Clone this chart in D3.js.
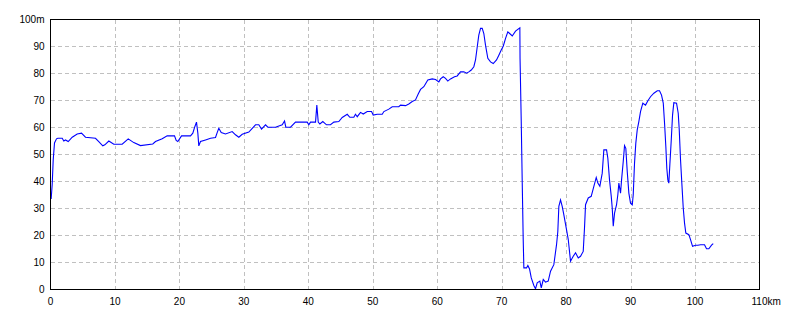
<!DOCTYPE html>
<html>
<head>
<meta charset="utf-8">
<script src="https://cdn.jsdelivr.net/npm/d3@7"></script>
<style>
  html, body { margin: 0; padding: 0; background: #fff; }
  svg { display: block; }
  text { font-family: "Liberation Sans", Arial, sans-serif; font-size: 10px; fill: #000; }
</style>
</head>
<body>
<svg id="chart" width="800" height="320"></svg>
<script>
// Distance (km) along the route
const distanceKm = [0.1,0.26,0.42,0.62,0.93,1.13,1.82,2.06,2.33,2.75,3.37,4.14,4.81,5.43,6.98,7.49,8.11,8.43,9.05,9.82,11.12,12.06,12.92,13.96,15.87,16.29,17.33,18.1,19.24,19.5,19.75,20.33,21.72,22.08,22.39,22.65,22.86,23.01,23.27,
  24.05,24.83,25.6,25.86,26.11,26.49,27.15,28.19,28.7,29.22,29.74,30.77,31.81,32.32,32.74,33.36,33.72,34.91,35.95,36.31,36.51,37.24,38.01,39.83,40.08,40.34,41.12,41.32,41.54,41.79,42.25,42.82,43.44,43.96,44.73,45.26,46.04,46.44,47.06,47.32,47.59,48.1,
  48.52,49.14,49.81,50.07,50.69,51.47,51.72,52.49,53.02,54.04,54.31,55.08,55.59,56.12,56.63,57.05,57.41,57.92,58.54,59.22,59.74,60.25,60.51,60.93,61.29,61.64,62.06,62.68,63.1,63.61,64.13,64.55,64.9,65.28,65.68,65.94,66.21,66.45,66.72,66.98,67.23,67.49,67.85,68.27,68.69,69.2,69.56,69.93,70.24,70.6,70.95,
  71.11,71.64,72.15,72.82,72.85,73.03,73.19,73.34,73.44,73.86,74.06,74.32,74.59,74.99,75.25,75.51,75.92,76.14,76.45,76.8,77.22,77.58,78.09,78.51,78.71,78.87,79.13,79.39,79.64,80.01,80.33,80.68,81.1,81.46,81.88,82.23,82.65,82.85,83.01,83.43,83.89,84.3,84.67,84.92,85.23,
  85.6,85.85,86.27,86.47,86.73,87.0,87.15,87.31,87.51,87.82,88.02,88.18,88.44,88.6,88.86,89.06,89.26,89.48,89.73,89.99,90.26,90.41,90.61,90.81,91.03,91.28,91.54,91.9,92.32,92.68,93.09,93.61,94.14,94.49,94.8,95.07,95.27,95.47,95.62,95.78,95.93,96.09,96.31,96.51,96.71,97.13,97.39,97.55,97.75,97.95,98.17,98.37,98.57,99.04,99.3,99.61,100.08,100.43,100.85,101.47,101.78,102.14,102.56,102.82];
// Elevation (m)
const elevationM = [33.5,38.8,48,54.3,55.8,56,56,55,55.4,54.8,56.4,57.6,57.9,56.4,56,54.8,53.2,53.6,55,53.8,53.8,55.8,54.4,53.3,53.9,54.8,55.8,56.9,56.9,55.2,54.8,56.9,56.9,57.9,60.3,62,57.9,53.2,54.8,
  55.4,56,56.3,58.1,59.7,58.1,57.6,58.5,57.3,56.4,57.5,58.3,61,61,59.4,61,60.1,60.1,61,62.4,60.1,60.1,62,62,61,62,62,68.3,62,61.3,62.2,61,61,62,62.2,63.7,64.9,63.8,63.8,64.9,64,65.6,
  65,65.9,65.9,64.6,64.9,64.9,65.9,66.8,67.7,67.7,68.3,68.1,68.7,69.6,70.2,72.4,74.1,75.1,77.6,78,77.8,76.9,78,78.8,78.2,77.2,78,78.8,79.1,80.6,80.6,80.1,80.6,81.3,82.5,85,89.9,94.2,96.7,96.7,94.8,90.5,85.6,84.3,83.7,85,86.8,88.7,90.1,93,95.4,
  95.1,93.9,95.7,96.9,85.6,62.8,39.4,18.5,8,8,8.9,7.6,4.3,1.5,0.3,2.5,3.1,0.6,3.7,2.7,3.1,6.8,9.2,16.6,21.5,30.8,33.2,30.8,27.7,22.8,18.5,10.5,12.3,13.6,11.7,12.3,14.1,22.8,31.4,33.9,34.5,38.2,41.5,39.4,38.2,
  43.1,51.7,51.7,48.6,40.6,34.5,30.2,23.4,28.3,31.4,35.1,39.4,35.7,40.6,47.4,53.3,52.3,43.7,35.7,32,31.4,35.1,46.8,54.2,59.1,62.2,65.9,69,68.3,69.9,71.4,72.7,73.6,73.6,72,69,61.6,52.9,44.9,40.6,39.4,46.2,55.4,64.6,69.2,69,65.3,59.1,48,39.4,30.2,24.6,20.9,20.3,18.5,16,16.4,16.4,16.6,16.6,15.1,15.1,16.4,17];

const xTicks = [0,10,20,30,40,50,60,70,80,90,100,110];
const yTicks = [0,10,20,30,40,50,60,70,80,90,100];
const xUnit = "km";
const yUnit = "m";

const svg = d3.select("#chart");
const x = d3.scaleLinear().domain([0, 110]).range([50.5, 759.5]);
const y = d3.scaleLinear().domain([0, 100]).range([289.5, 19.5]);

// grid
const grid = svg.append("g").attr("shape-rendering", "crispEdges")
  .attr("stroke", "#c0c0c0").attr("stroke-dasharray", "4,3").attr("stroke-width", 1);
grid.selectAll("line.v").data(xTicks.slice(1, -1)).join("line")
  .attr("x1", d => Math.round(x(d)) + 0.5).attr("x2", d => Math.round(x(d)) + 0.5)
  .attr("y1", y(100)).attr("y2", y(0));
grid.selectAll("line.h").data(yTicks.slice(1, -1)).join("line")
  .attr("class", "h")
  .attr("y1", d => Math.round(y(d) - 0.5) + 0.5).attr("y2", d => Math.round(y(d) - 0.5) + 0.5)
  .attr("x1", x(0)).attr("x2", x(110));

// line
const line = d3.line().x((d, i) => x(distanceKm[i])).y(d => y(d));
svg.append("path").datum(elevationM)
  .attr("d", line).attr("fill", "none").attr("stroke", "#0000ff")
  .attr("stroke-width", 1.1).attr("stroke-linejoin", "miter");

// border
svg.append("rect").attr("x", x(0)).attr("y", y(100))
  .attr("width", x(110) - x(0)).attr("height", y(0) - y(100))
  .attr("fill", "none").attr("stroke", "#000").attr("shape-rendering", "crispEdges");

// y labels
svg.append("g").selectAll("text").data(yTicks).join("text")
  .attr("x", 44.5).attr("y", d => y(d)).attr("dy", "0.35em")
  .attr("text-anchor", "end")
  .text(d => d === 100 ? d + yUnit : d);

// x labels
const xl = svg.append("g");
xTicks.forEach(d => {
  const t = xl.append("text").attr("y", 305).text(d);
  if (d === 110) {
    const w = t.node().getComputedTextLength();
    t.text(d + xUnit).attr("x", x(d) - w / 2).attr("text-anchor", "start");
  } else {
    t.attr("x", x(d)).attr("text-anchor", "middle");
  }
});
</script>
</body>
</html>
